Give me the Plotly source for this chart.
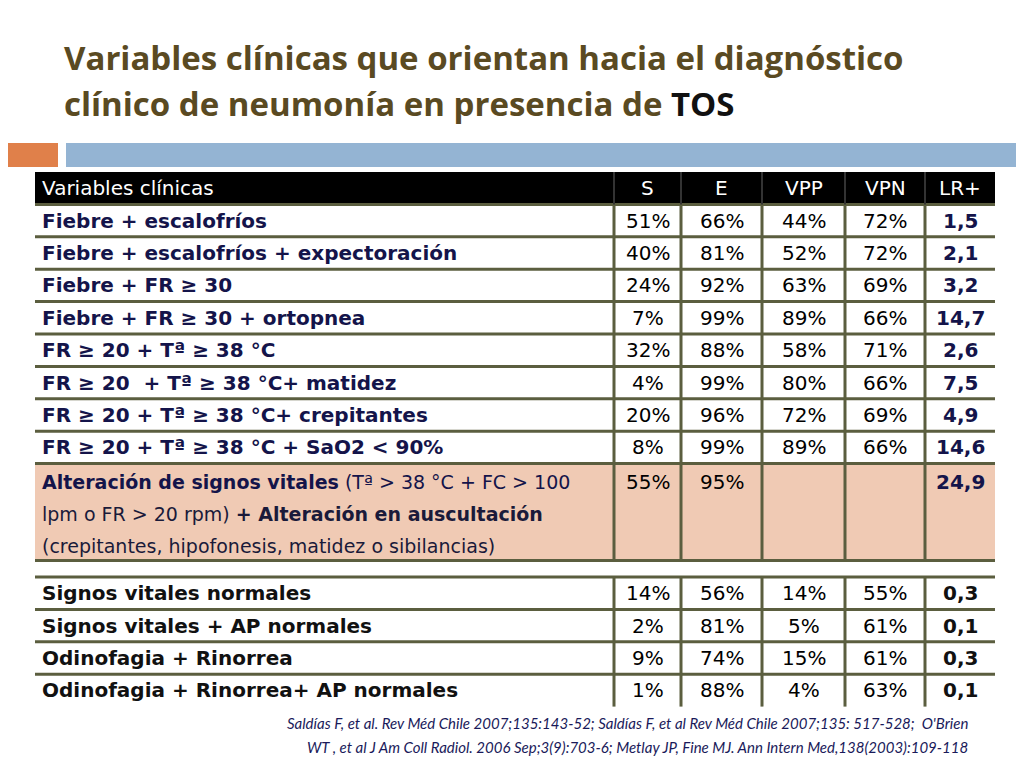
import plotly.graph_objects as go

# table data
header = ['Variables clínicas', 'S', 'E', 'VPP', 'VPN', 'LR+']
variables_top = ['Fiebre + escalofríos',
                 'Fiebre + escalofríos + expectoración',
                 'Fiebre + FR ≥ 30',
                 'Fiebre + FR ≥ 30 + ortopnea',
                 'FR ≥ 20 + Tª ≥ 38 °C',
                 'FR ≥ 20  + Tª ≥ 38 °C+ matidez',
                 'FR ≥ 20 + Tª ≥ 38 °C+ crepitantes',
                 'FR ≥ 20 + Tª ≥ 38 °C + SaO2 < 90%']
sens_top = ['51%', '40%', '24%', '7%', '32%', '4%', '20%', '8%']
espec_top = ['66%', '81%', '92%', '99%', '88%', '99%', '96%', '99%']
vpp_top = ['44%', '52%', '63%', '89%', '58%', '80%', '72%', '89%']
vpn_top = ['72%', '72%', '69%', '66%', '71%', '66%', '69%', '66%']
lr_top = ['1,5', '2,1', '3,2', '14,7', '2,6', '7,5', '4,9', '14,6']

combo_lines = ['<b>Alteración de signos vitales</b> (Tª > 38 °C + FC > 100',
               'lpm o FR > 20 rpm) <b>+ Alteración en auscultación</b>',
               '(crepitantes, hipofonesis, matidez o sibilancias)']
combo_vals = ['55%', '95%', '', '', '24,9']

variables_bot = ['Signos vitales normales', 'Signos vitales + AP normales',
                 'Odinofagia + Rinorrea', 'Odinofagia + Rinorrea+ AP normales']
sens_bot = ['14%', '2%', '9%', '1%']
espec_bot = ['56%', '81%', '74%', '88%']
vpp_bot = ['14%', '5%', '15%', '4%']
vpn_bot = ['55%', '61%', '61%', '63%']
lr_bot = ['0,3', '0,1', '0,3', '0,1']

footnote = ["Saldías F, et al. Rev Méd Chile 2007;135:143-52; Saldías F, et al Rev Méd Chile 2007;135: 517-528;  O'Brien",
            "WT , et al J Am Coll Radiol. 2006 Sep;3(9):703-6; Metlay JP, Fine MJ. Ann Intern Med,138(2003):109-118"]

# layout geometry
col_edges = [35, 614, 681, 762, 845, 925, 995]
row_h = 32.4
top_y = 172
bot_y = 577
combo_h = 97
grid = '#5b5e3f'
navy = '#14144a'
FONT = 'DejaVu Sans'

fig = go.Figure()
shapes = []
ann = []

def cell_text(x0, x1, y, txt, color='black', bold=False, align='center', size=20):
    t = '<b>%s</b>' % txt if bold else txt
    if align == 'center':
        ann.append(dict(x=(x0 + x1) / 2, y=y, text=t, xanchor='center'))
    else:
        ann.append(dict(x=x0 + 5, y=y, text=t, xanchor='left'))
    ann[-1].update(yanchor='middle', showarrow=False, font=dict(color=color, size=size, family=FONT))

# slide decoration
shapes.append(dict(type='rect', x0=0, x1=58, y0=143, y1=167, fillcolor='#e0804a', line_width=0, layer='below'))
shapes.append(dict(type='rect', x0=66, x1=1030, y0=143, y1=167, fillcolor='#94b4d3', line_width=0, layer='below'))

# header row
y0 = top_y
shapes.append(dict(type='rect', x0=col_edges[0], x1=col_edges[-1], y0=y0, y1=y0 + row_h,
                   fillcolor='black', line_width=0, layer='below'))
for i, h in enumerate(header):
    cell_text(col_edges[i], col_edges[i + 1], y0 + row_h / 2, h, color='white',
              align='left' if i == 0 else 'center')

# top rows
y = y0 + row_h
for i, v in enumerate(variables_top):
    yc = y + row_h / 2
    cell_text(col_edges[0], col_edges[1], yc, v, color=navy, bold=True, align='left')
    for j, val in enumerate([sens_top[i], espec_top[i], vpp_top[i], vpn_top[i]]):
        cell_text(col_edges[j + 1], col_edges[j + 2], yc, val)
    cell_text(col_edges[5], col_edges[6], yc, lr_top[i], color=navy, bold=True)
    shapes.append(dict(type='line', x0=col_edges[0], x1=col_edges[-1], y0=y, y1=y, line=dict(color=grid, width=3)))
    y += row_h

# combo row
shapes.append(dict(type='rect', x0=col_edges[0], x1=col_edges[-1], y0=y, y1=y + combo_h,
                   fillcolor='#f0cab4', line_width=0, layer='below'))
shapes.append(dict(type='line', x0=col_edges[0], x1=col_edges[-1], y0=y, y1=y, line=dict(color=grid, width=3)))
for k, line in enumerate(combo_lines):
    ann.append(dict(x=col_edges[0] + 5, y=y + 18 + k * 32, text=line, xanchor='left', yanchor='middle',
                    showarrow=False, font=dict(color='#1a1a3a' if k else navy, size=19, family=FONT)))
for j, val in enumerate(combo_vals):
    cell_text(col_edges[j + 1], col_edges[j + 2], y + 18, val,
              color=navy if j == 4 else 'black', bold=(j == 4))
y_mid_end = y + combo_h
shapes.append(dict(type='line', x0=col_edges[0], x1=col_edges[-1], y0=y_mid_end, y1=y_mid_end,
                   line=dict(color=grid, width=3)))
for x in col_edges[1:-1]:
    shapes.append(dict(type='line', x0=x, x1=x, y0=top_y + row_h, y1=y_mid_end, line=dict(color=grid, width=3)))
for x in col_edges[1:-1]:
    shapes.append(dict(type='line', x0=x, x1=x, y0=top_y, y1=top_y + row_h, line=dict(color='#333', width=2)))

# bottom block
y = bot_y
for i, v in enumerate(variables_bot):
    yc = y + row_h / 2
    shapes.append(dict(type='line', x0=col_edges[0], x1=col_edges[-1], y0=y, y1=y, line=dict(color=grid, width=3)))
    cell_text(col_edges[0], col_edges[1], yc, v, color='#111', bold=True, align='left')
    for j, val in enumerate([sens_bot[i], espec_bot[i], vpp_bot[i], vpn_bot[i]]):
        cell_text(col_edges[j + 1], col_edges[j + 2], yc, val)
    cell_text(col_edges[5], col_edges[6], yc, lr_bot[i], color='#111', bold=True)
    y += row_h
for x in col_edges[1:-1]:
    shapes.append(dict(type='line', x0=x, x1=x, y0=bot_y, y1=y, line=dict(color=grid, width=3)))

# title
ann.append(dict(x=62, y=57, text='<b>Variables clínicas que orientan hacia el diagnóstico</b>', xanchor='left',
                yanchor='middle', showarrow=False, font=dict(color='#5a4a22', size=33, family='Open Sans')))
ann.append(dict(x=62, y=103, text='<b>clínico de neumonía en presencia de <span style="color:#111">TOS</span></b>',
                xanchor='left', yanchor='middle', showarrow=False,
                font=dict(color='#5a4a22', size=33, family='Open Sans')))

# footnote
for k, line in enumerate(footnote):
    ann.append(dict(x=970, y=723 + k * 24, text='<i>%s</i>' % line, xanchor='right', yanchor='middle',
                    showarrow=False, font=dict(color='#1a1a5a', size=15, family='Lato')))

# the page adds an 8px body margin, so shift the view to compensate
fig.update_layout(width=1024, height=768, margin=dict(l=0, r=0, t=0, b=0),
                  paper_bgcolor='white', plot_bgcolor='white',
                  xaxis=dict(range=[8, 1032], visible=False, fixedrange=True),
                  yaxis=dict(range=[776, 8], visible=False, fixedrange=True),
                  shapes=shapes, annotations=ann, showlegend=False)
fig.write_html("out.html")
